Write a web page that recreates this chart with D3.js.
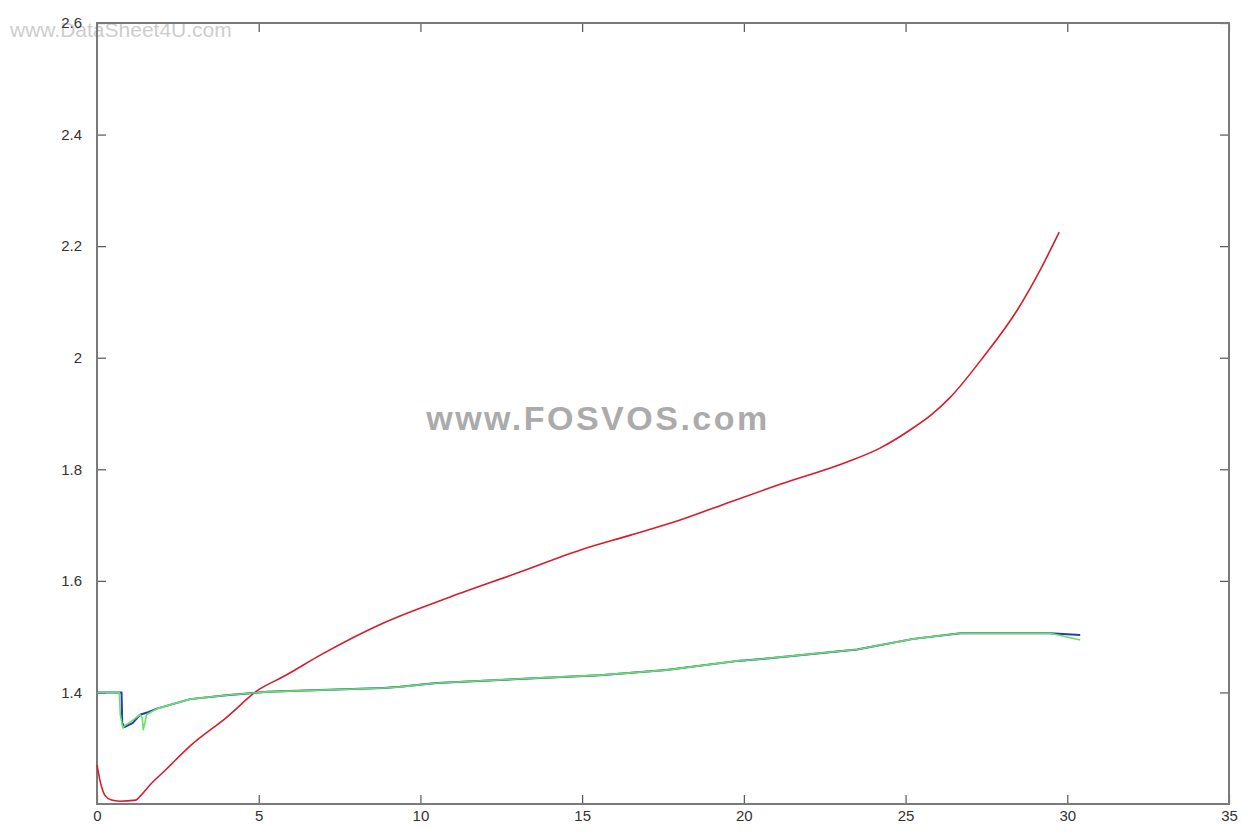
<!DOCTYPE html>
<html>
<head>
<meta charset="utf-8">
<script src="https://cdn.jsdelivr.net/npm/d3@7"></script>
<style>
  html, body { margin: 0; padding: 0; background: #fff; }
  svg { display: block; }
</style>
</head>
<body>
<svg id="chart" width="1248" height="836"></svg>
<script>
// ---- data ----
const xTicks = [0, 5, 10, 15, 20, 25, 30, 35];
const yTicks = [2.6, 2.4, 2.2, 2.0, 1.8, 1.6, 1.4];
const yTickLabels = ["2.6", "2.4", "2.2", "2", "1.8", "1.6", "1.4"];

const redX = [0, 0.1, 0.25, 0.45, 0.7, 1.2, 1.35, 1.65, 2.1, 2.9, 4.0, 5.0, 5.75, 7.0, 8.84, 10.92, 12.99, 14.93, 16.5, 18.03, 19.6, 21.12, 23.19, 24.21, 25.23, 25.8, 26.38, 27.4, 28.45, 29.16, 29.75];
const redY = [1.27, 1.24, 1.215, 1.207, 1.205, 1.207, 1.215, 1.235, 1.26, 1.305, 1.355, 1.405, 1.428, 1.47, 1.524, 1.571, 1.614, 1.655, 1.682, 1.709, 1.742, 1.773, 1.813, 1.838, 1.874, 1.898, 1.929, 2.001, 2.085, 2.157, 2.225];

const blueX = [0, 0.76, 0.78, 0.85, 1.1, 1.33, 1.6, 1.85, 2.88, 4.0, 5.25, 8.85, 9.37, 10.5, 13.7, 15.55, 17.6, 19.88, 20.19, 23.5, 25.24, 26.7, 29.47, 30.4];
const blueY = [1.4, 1.4, 1.345, 1.338, 1.345, 1.36, 1.365, 1.371, 1.388, 1.395, 1.401, 1.408, 1.41, 1.417, 1.426, 1.431, 1.44, 1.457, 1.458, 1.477, 1.496, 1.506, 1.506, 1.503];

const greenX = [0, 0.69, 0.72, 0.8, 0.85, 1.1, 1.33, 1.4, 1.43, 1.48, 1.53, 1.85, 2.88, 4.0, 5.25, 8.85, 9.37, 10.5, 13.7, 15.55, 17.6, 19.88, 20.19, 23.5, 25.24, 26.7, 29.47, 30.4];
const greenY = [1.4, 1.4, 1.36, 1.336, 1.34, 1.35, 1.36, 1.355, 1.333, 1.345, 1.36, 1.371, 1.388, 1.395, 1.401, 1.408, 1.41, 1.417, 1.426, 1.431, 1.44, 1.457, 1.458, 1.477, 1.496, 1.506, 1.506, 1.494];

// ---- layout ----
const L = 97, R = 1229, T = 23, B = 804;
const svg = d3.select("#chart");
const x = d3.scaleLinear().domain([0, 35]).range([L, R]);
const y = d3.scaleLinear().domain([1.2, 2.6]).range([B, T]);

// watermarks
svg.append("text").attr("x", 10).attr("y", 37)
  .attr("font-family", "Liberation Sans, Arial, sans-serif").attr("font-size", 21)
  .attr("fill", "#cdcdcd").text("www.DataSheet4U.com");

svg.append("text").attr("x", 598).attr("y", 430).attr("text-anchor", "middle")
  .attr("font-family", "Liberation Sans, Arial, sans-serif").attr("font-weight", "bold")
  .attr("font-size", 34).attr("fill", "#ababab").attr("letter-spacing", 2.5).text("www.FOSVOS.com");

// axes
const tickLen = 9;
const axisColor = "#7a7a7a";
const fontFam = "Liberation Sans Narrow, Liberation Sans, Arial, sans-serif";

const xb = svg.append("g").attr("transform", `translate(0,${B})`)
  .call(d3.axisBottom(x).tickValues(xTicks).tickSizeInner(-tickLen).tickSizeOuter(0).tickPadding(6).tickFormat(d3.format("d")));
const xt = svg.append("g").attr("transform", `translate(0,${T})`)
  .call(d3.axisTop(x).tickValues(xTicks).tickSizeInner(-tickLen).tickSizeOuter(0).tickFormat(""));
const yl = svg.append("g").attr("transform", `translate(${L},0)`)
  .call(d3.axisLeft(y).tickValues(yTicks).tickSizeInner(-tickLen).tickSizeOuter(0).tickPadding(15)
    .tickFormat((d, i) => yTickLabels[i]));
const yr = svg.append("g").attr("transform", `translate(${R},0)`)
  .call(d3.axisRight(y).tickValues(yTicks).tickSizeInner(-tickLen).tickSizeOuter(0).tickFormat(""));

[xb, xt, yl, yr].forEach(g => {
  g.select(".domain").remove();
  g.selectAll(".tick line").attr("stroke", "#555").attr("stroke-width", 1.2);
  g.selectAll("text").attr("font-family", fontFam).attr("font-size", 15).attr("fill", "#333");
});

// box
svg.append("rect").attr("x", L).attr("y", T).attr("width", R - L).attr("height", B - T)
  .attr("fill", "none").attr("stroke", axisColor).attr("stroke-width", 2);

// lines
const smooth = d3.line().x(d => x(d[0])).y(d => y(d[1])).curve(d3.curveMonotoneX);
const straight = d3.line().x(d => x(d[0])).y(d => y(d[1]));
function draw(xs, ys, color, w, gen) {
  svg.append("path").datum(xs.map((v, i) => [v, ys[i]]))
    .attr("d", gen).attr("fill", "none").attr("stroke", color)
    .attr("stroke-width", w).attr("stroke-linejoin", "round");
}
draw(redX, redY, "#d81c2c", 1.6, smooth);
draw(blueX, blueY, "#2a3db0", 2, straight);
draw(greenX, greenY, "#66e066", 1.6, straight);
</script>
</body>
</html>
